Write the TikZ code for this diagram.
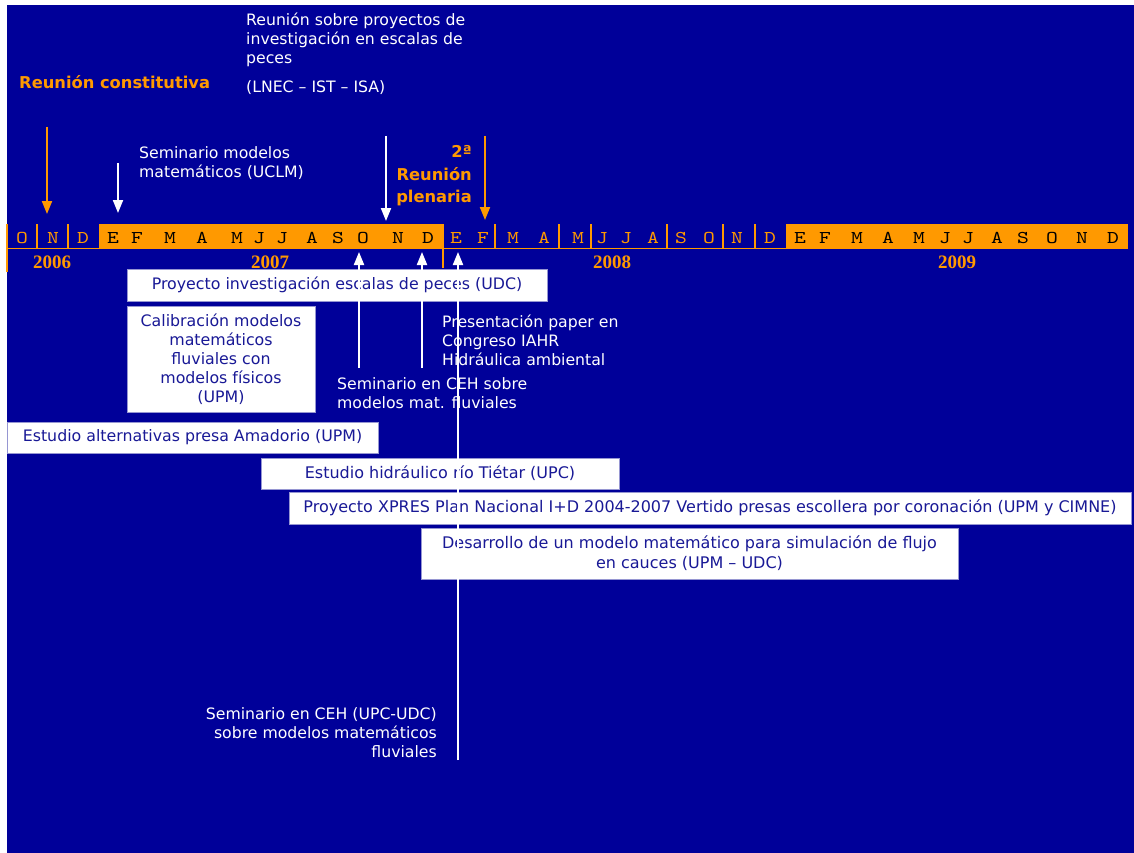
\documentclass[tikz,border=0pt]{standalone}
\usepackage{fontspec}
\setmainfont{DejaVu Sans}
\newfontfamily\monthfont[FakeStretch=1.25]{lmmono10-regular.otf}
\newfontfamily\yearfont{Liberation Serif}
\usetikzlibrary{arrows.meta}
\definecolor{bgblue}{RGB}{0,0,153}
\definecolor{orng}{RGB}{255,153,0}
\definecolor{boxline}{RGB}{150,150,210}
\definecolor{boxtext}{RGB}{25,25,150}
\tikzset{
  whitetxt/.style={text=white,inner sep=0pt,font=\fontsize{15.7}{19}\selectfont},
  orangetxt/.style={text=orng,inner sep=0pt,font=\fontsize{16.3}{22.5}\selectfont\bfseries},
  wbox/.style={draw=boxline,line width=0.8pt,fill=white,text=boxtext,inner sep=0pt,
    font=\fontsize{15.8}{19}\selectfont},
  nbox/.style={wbox,font=\fontsize{16}{20}\selectfont},
  monthin/.style={text=black,inner sep=0pt,font=\monthfont\fontsize{18}{18}\selectfont},
  monthout/.style={monthin,text=orng},
  yeartxt/.style={text=orng,inner sep=0pt,font=\yearfont\bfseries\fontsize{19}{19}\selectfont},
  divline/.style={draw=orng,line width=1.4pt},
  warrow/.style={draw=white,line width=2pt,-{Triangle[width=10pt,length=13pt]}},
  oarrow/.style={warrow,draw=orng,fill=orng},
}
\begin{document}
\begin{tikzpicture}[x=1pt,y=-1pt]
\useasboundingbox (0,0) rectangle (1134,853);
\fill[bgblue] (7,5) rectangle (1134,853);

% timeline bar
\fill[orng] (99,224) rectangle (443,249);
\fill[orng] (786,224) rectangle (1128,249);
\draw[divline] (7,248.3) -- (786,248.3);
\draw[divline] (7,224) -- (7,272);
\draw[divline] (443,224) -- (443,268);
\foreach \x in {37,68,495,559,591,667,723,755}
  \draw[divline] (\x,224) -- (\x,248);

\foreach \x/\m [count=\i] in {22/O,53/N,83/D}
  \node[monthout] (ma\i) at (\x,238) {\m};
\foreach \x/\m [count=\i] in {113/E,137/F,170/M,202/A,237/M,259/J,282/J,312/A,338/S,363/O,398/N,428/D}
  \node[monthin] (mb\i) at (\x,238) {\m};
\foreach \x/\m [count=\i] in {456/E,483/F,513/M,544/A,578/M,602/J,626/J,653/A,681/S,709/O,737/N,770/D}
  \node[monthout] (mc\i) at (\x,238) {\m};
\foreach \x/\m [count=\i] in {800/E,825/F,857/M,888/A,919/M,945/J,968/J,997/A,1023/S,1052/O,1082/N,1113/D}
  \node[monthin] (md\i) at (\x,238) {\m};

\node[yeartxt] (y6) at (52,262) {2006};
\node[yeartxt] (y7) at (270,262) {2007};
\node[yeartxt] (y8) at (612,262) {2008};
\node[yeartxt] (y9) at (957,262) {2009};

% top texts
\node[orangetxt,anchor=west] (constit) at (19,82) {Reunión constitutiva};
\node[whitetxt,anchor=west,align=left] (reunion) at (246,40)
  {Reunión sobre proyectos de\\investigación en escalas de\\peces};
\node[whitetxt,anchor=west] (lnec) at (246,88) {(LNEC – IST – ISA)};
\node[whitetxt,anchor=west,align=left] (semuclm) at (139,163)
  {Seminario modelos\\matemáticos (UCLM)};
\node[orangetxt,anchor=east,align=right] (plenaria) at (472,176)
  {2ª\\Reunión\\plenaria};

% boxes
\node[wbox,minimum width=420pt,minimum height=32pt] (proy) at (337,285)
  {Proyecto investigación escalas de peces (UDC)};
\node[wbox,minimum width=188pt,minimum height=106pt,align=center] (calib) at (221,359)
  {Calibración modelos\\matemáticos\\fluviales con\\modelos físicos\\(UPM)};
\node[wbox,minimum width=371pt,minimum height=31pt] (amad) at (192.5,437.5)
  {Estudio alternativas presa Amadorio (UPM)};
\node[nbox,minimum width=358pt,minimum height=31pt] (tietar) at (440,473.5)
  {Estudio hidráulico río Tiétar (UPC)};
\node[nbox,minimum width=842pt,minimum height=32pt] (xpres) at (710,508)
  {Proyecto XPRES Plan Nacional I+D 2004-2007 Vertido presas escollera por coronación (UPM y CIMNE)};
\node[nbox,minimum width=537pt,minimum height=51pt,align=center] (desarr) at (689.5,553.5)
  {Desarrollo de un modelo matemático para simulación de flujo\\en cauces (UPM – UDC)};

% lower texts
\node[whitetxt,anchor=west,align=left] (iahr) at (442,340)
  {Presentación paper en\\Congreso IAHR\\Hidráulica ambiental};
\node[whitetxt,anchor=west,align=left] (semceh) at (337,393.5)
  {Seminario en CEH sobre\\modelos mat. fluviales};
\node[whitetxt,anchor=east,align=right] (semupc) at (437,733)
  {Seminario en CEH (UPC-UDC)\\sobre modelos matemáticos\\fluviales};

% arrow end points
\coordinate (a1s) at (47,127);  \coordinate (a1e) at (47,214);
\coordinate (a2s) at (118,163); \coordinate (a2e) at (118,213);
\coordinate (a3s) at (386,136); \coordinate (a3e) at (386,221);
\coordinate (a4s) at (485,136); \coordinate (a4e) at (485,220);
\coordinate (u1s) at (359,368); \coordinate (u1e) at (359,252);
\coordinate (u2s) at (422,368); \coordinate (u2e) at (422,252);
\coordinate (u3s) at (458,760); \coordinate (u3e) at (458,252);

\draw[oarrow] (a1s) -- (a1e);
\draw[warrow] (a2s) -- (a2e);
\draw[warrow] (a3s) -- (a3e);
\draw[oarrow] (a4s) -- (a4e);
\draw[warrow] (u1s) -- (u1e);
\draw[warrow] (u2s) -- (u2e);
\draw[warrow] (u3s) -- (u3e);
\end{tikzpicture}
\end{document}
